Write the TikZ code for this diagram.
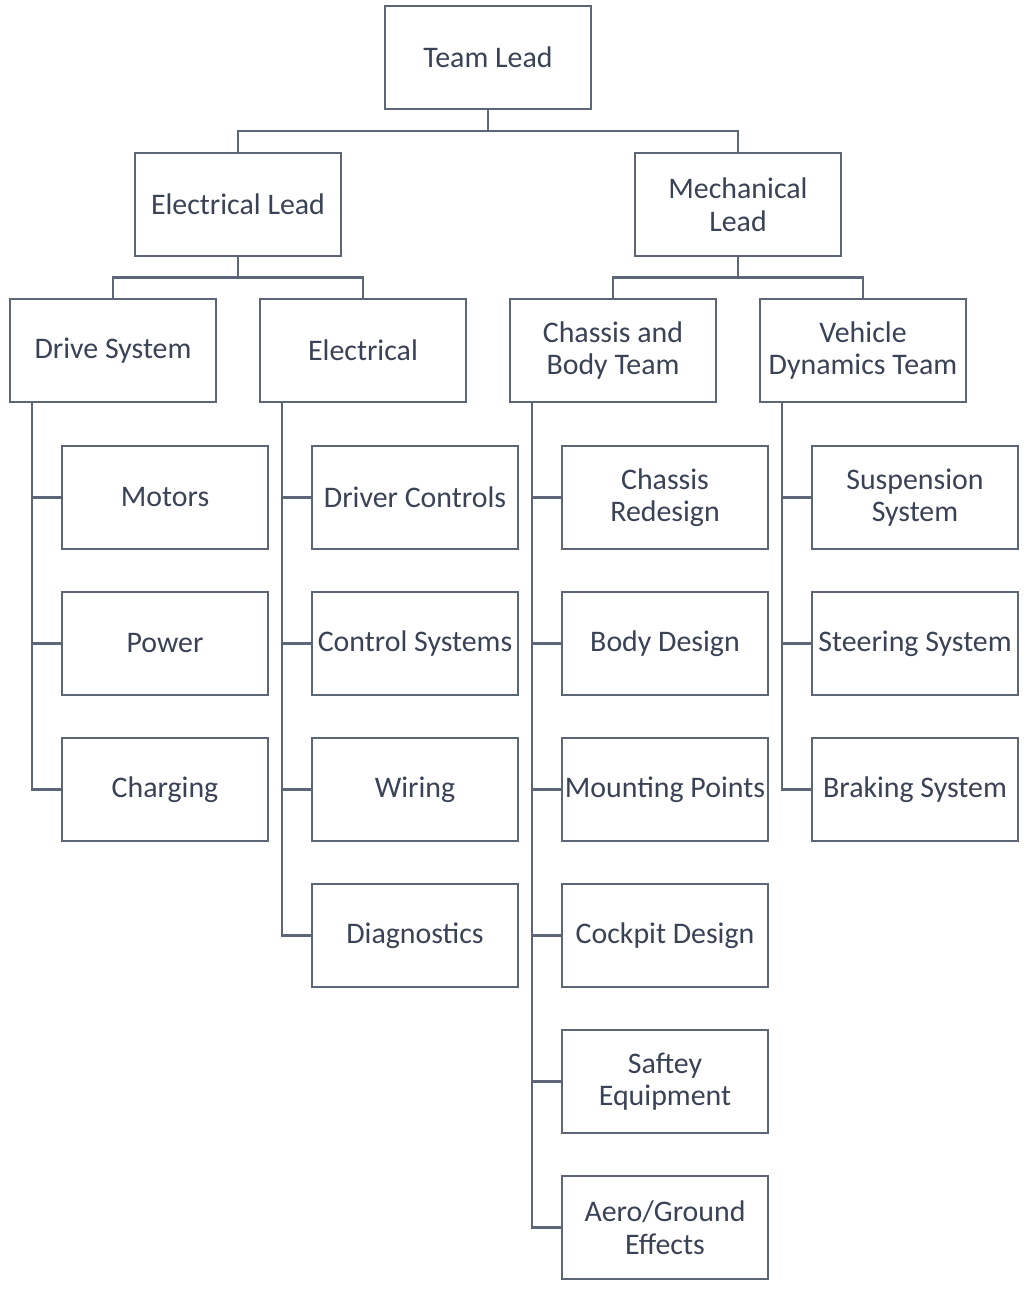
\documentclass[tikz,border=0pt]{standalone}
\usepackage{fontspec}
\setmainfont{Carlito}
\usepackage{tikz}
\usetikzlibrary{positioning}
\definecolor{boxline}{RGB}{92,102,118}
\definecolor{boxtext}{RGB}{58,66,86}
\tikzset{
  box/.style={rectangle, draw=boxline, fill=white, line width=1.4pt,
    minimum width=4.12cm, minimum height=2.06cm, align=center,
    font=\fontsize{17}{18.5}\selectfont, text=boxtext, inner sep=0pt,
    outer sep=0pt},
  link/.style={draw=boxline, line width=1.4pt}
}
\begin{document}
\begin{tikzpicture}
  \useasboundingbox (0,0) rectangle (20.6,-25.92);
  % top of the tree
  \node[box] (lead) at (9.76,-1.15) {Team Lead};
  \node[box] (elec) at (4.76,-4.09) {Electrical Lead};
  \node[box] (mech) at (14.76,-4.09) {Mechanical\\Lead};
  % team row
  \node[box] (drive) at (2.26,-7.01) {Drive System};
  \node[box, right=0.88cm of drive] (elsys) {Electrical};
  \node[box, right=0.88cm of elsys] (chassis) {Chassis and\\Body Team};
  \node[box, right=0.88cm of chassis] (vdyn) {Vehicle\\Dynamics Team};
  % drive system tasks
  \node[box, below=0.88cm of drive, xshift=1.04cm] (motors) {Motors};
  \node[box, below=0.86cm of motors] (power) {Power};
  \node[box, below=0.86cm of power] (charging) {Charging};
  % electrical tasks
  \node[box, below=0.88cm of elsys, xshift=1.04cm] (drvctl) {Driver Controls};
  \node[box, below=0.86cm of drvctl] (ctlsys) {Control Systems};
  \node[box, below=0.86cm of ctlsys] (wiring) {Wiring};
  \node[box, below=0.86cm of wiring] (diag) {Diagnostics};
  % chassis and body tasks
  \node[box, below=0.88cm of chassis, xshift=1.04cm] (redesign) {Chassis\\Redesign};
  \node[box, below=0.86cm of redesign] (body) {Body Design};
  \node[box, below=0.86cm of body] (mount) {Mounting Points};
  \node[box, below=0.86cm of mount] (cockpit) {Cockpit Design};
  \node[box, below=0.86cm of cockpit] (safety) {Saftey\\Equipment};
  \node[box, below=0.86cm of safety] (aero) {Aero/Ground\\Effects};
  % vehicle dynamics tasks
  \node[box, below=0.88cm of vdyn, xshift=1.04cm] (susp) {Suspension\\System};
  \node[box, below=0.86cm of susp] (steer) {Steering System};
  \node[box, below=0.86cm of steer] (brake) {Braking System};
  % connectors
  \draw[link] (lead.south) -- ++(0,-0.44) -| (elec.north);
  \draw[link] (lead.south) -- ++(0,-0.44) -| (mech.north);
  \draw[link] (elec.south) -- ++(0,-0.43) -| (drive.north);
  \draw[link] (elec.south) -- ++(0,-0.43) -| (elsys.north);
  \draw[link] (mech.south) -- ++(0,-0.43) -| (chassis.north);
  \draw[link] (mech.south) -- ++(0,-0.43) -| (vdyn.north);
  \foreach \c in {motors,power,charging}
    \draw[link] ([xshift=0.44cm]drive.south west) |- (\c.west);
  \foreach \c in {drvctl,ctlsys,wiring,diag}
    \draw[link] ([xshift=0.44cm]elsys.south west) |- (\c.west);
  \foreach \c in {redesign,body,mount,cockpit,safety,aero}
    \draw[link] ([xshift=0.44cm]chassis.south west) |- (\c.west);
  \foreach \c in {susp,steer,brake}
    \draw[link] ([xshift=0.44cm]vdyn.south west) |- (\c.west);
\end{tikzpicture}
\end{document}
